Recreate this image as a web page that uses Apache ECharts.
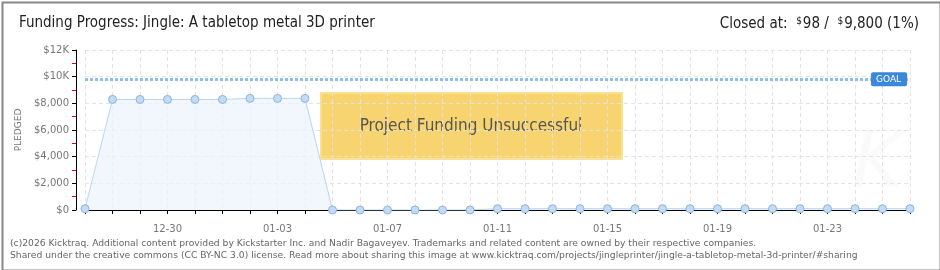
<!DOCTYPE html>
<html><head><meta charset="utf-8">
<script src="https://cdn.jsdelivr.net/npm/echarts@6/dist/echarts.min.js"></script>
<style>html,body{margin:0;padding:0;background:#fff}#c{width:940px;height:270px}</style>
</head><body><div id="c"></div>
<script>
const dates = ['12-27','12-28','12-29','12-30','12-31','01-01','01-02','01-03','01-04','01-05','01-06','01-07','01-08','01-09','01-10','01-11','01-12','01-13','01-14','01-15','01-16','01-17','01-18','01-19','01-20','01-21','01-22','01-23','01-24','01-25','01-26'];
const pledged = [98,8290,8290,8290,8290,8290,8370,8370,8370,0,0,0,0,0,0,98,98,98,98,98,98,98,98,98,98,98,98,98,98,98,98];
const goal = 9800;
const yTicks = [0,2000,4000,6000,8000,10000,12000];
const yTickLabels = ['$0','$2,000','$4,000','$6,000','$8,000','$10K','$12K'];
const xTickLabels = ['12-30','01-03','01-07','01-11','01-15','01-19','01-23'];
const titleText = 'Funding Progress: Jingle: A tabletop metal 3D printer';
const footer1 = '(c)2026 Kicktraq. Additional content provided by Kickstarter Inc. and Nadir Bagaveyev. Trademarks and related content are owned by their respective companies.';
const footer2 = 'Shared under the creative commons (CC BY-NC 3.0) license. Read more about sharing this image at www.kicktraq.com/projects/jingleprinter/jingle-a-tabletop-metal-3d-printer/#sharing';
const statusText = 'Project Funding Unsuccessful';

const TF = '"Liberation Sans Narrow","DejaVu Sans Condensed","Liberation Sans",sans-serif';
const chart = echarts.init(document.getElementById('c'), null, {renderer:'canvas'});
chart.setOption({
  animation:false,
  backgroundColor:'#fff',
  grid:{left:85,right:30,top:50,bottom:60,containLabel:false},
  xAxis:{
    type:'category', data:dates, boundaryGap:false, offset:9,
    axisLine:{lineStyle:{color:'#000',width:1}},
    axisTick:{show:true,interval:0,length:4,lineStyle:{color:'#000'}},
    axisLabel:{interval:(i,v)=>xTickLabels.includes(v), color:'#777', fontSize:10, fontFamily:'DejaVu Sans', margin:5},
    splitLine:{show:true,interval:0,lineStyle:{color:'#e3e3e3',type:[4,3]}}
  },
  yAxis:{
    type:'value', min:0, max:12000, interval:2000, offset:9,
    name:'PLEDGED', nameLocation:'middle', nameRotate:90, nameGap:50,
    nameTextStyle:{color:'#777',fontSize:9,fontFamily:'DejaVu Sans'},
    axisLine:{show:true,lineStyle:{color:'#000',width:1}},
    axisTick:{show:true,length:4,lineStyle:{color:'#000'}},
    minorTick:{show:true,splitNumber:2,length:4,lineStyle:{color:'#e00000'}},
    axisLabel:{formatter:v=>yTickLabels[yTicks.indexOf(v)], color:'#777', fontSize:10, fontFamily:'DejaVu Sans', margin:7},
    splitLine:{show:true,lineStyle:{color:'#e3e3e3',type:[4,3]}}
  },
  series:[{
    type:'line', data:pledged, symbol:'circle', symbolSize:8,
    lineStyle:{color:'#b7d6f3',width:1},
    itemStyle:{color:'#c3dcf6',borderColor:'#8db3dc',borderWidth:1},
    areaStyle:{color:'#edf4fc'},
    markLine:{
      silent:true, symbol:'none',
      lineStyle:{color:'#8ebfec',type:[3,2],width:3},
      label:{show:true,position:'end',distance:-39,formatter:'GOAL',color:'#fff',backgroundColor:'#3b87d8',borderRadius:2,padding:[3,6,2,5],fontSize:9,fontFamily:'DejaVu Sans'},
      data:[{yAxis:goal}]
    },
    z:3
  }],
  graphic:[
    {type:'rect',left:0,top:0,shape:{x:0,y:0,width:938,height:268},style:{fill:'none',stroke:'#888',lineWidth:2},z:100},
    {type:'text',left:852,top:128,z:0,style:{text:'K',fontSize:78,fontStyle:'italic',fontFamily:'DejaVu Sans',fill:'#fafafa'}},
    {type:'text',left:19,top:16,style:{text:titleText,fontSize:15,fontFamily:TF,fill:'#222'}},
    {type:'text',right:21,top:16,style:{
      text:'Closed at:  {s|$}98 /  {s|$}9,800 (1%)',
      rich:{s:{fontSize:10,fontFamily:TF,fill:'#222',verticalAlign:'top',padding:[0,1,6,0]}},
      fontSize:15,fontFamily:TF,fill:'#222'}},
    {type:'group',left:320,top:92,z:50,children:[
      {type:'rect',shape:{x:0,y:0,width:301,height:66},style:{fill:'#f7d470',stroke:'#fae18d',lineWidth:2}},
      {type:'text',x:150,y:34,style:{text:statusText,align:'center',verticalAlign:'middle',fontSize:17,fontFamily:TF,fill:'#555',textShadowColor:'#fff',textShadowOffsetX:1,textShadowOffsetY:1,textShadowBlur:0}}
    ]},
    {type:'text',left:10,top:239,style:{text:footer1,fontSize:9.2,fontFamily:'DejaVu Sans',fill:'#666'}},
    {type:'text',left:10,top:251,style:{text:footer2,fontSize:9.2,fontFamily:'DejaVu Sans',fill:'#666'}}
  ]
});
</script></body></html>
